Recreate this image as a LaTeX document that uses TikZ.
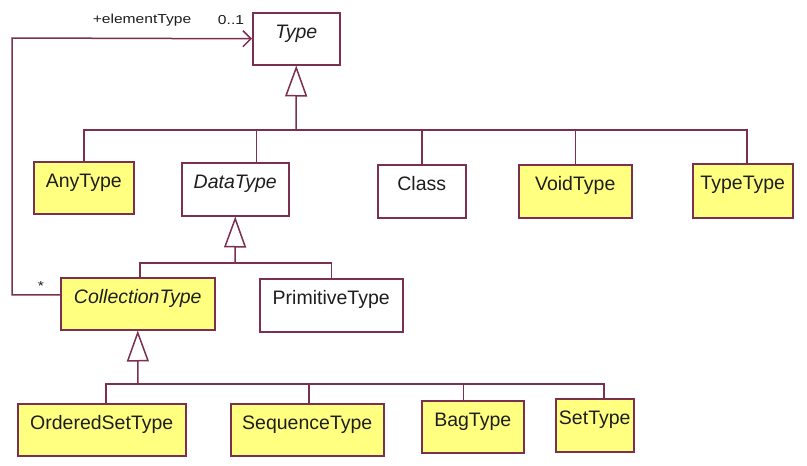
\documentclass[tikz,border=0pt]{standalone}
\usepackage{fontspec}
\setmainfont{Liberation Sans}
\newfontfamily\lblfont[FakeStretch=1.2]{Liberation Sans}
\usetikzlibrary{arrows.meta}
\definecolor{umlline}{RGB}{122,48,78}
\definecolor{umlfill}{RGB}{255,255,128}
\definecolor{umltext}{RGB}{30,30,30}
\tikzset{
 umlbox/.style={draw=umlline, line width=1.5pt, inner sep=0pt, anchor=north west, text=umltext, font=\fontsize{19.5}{22}\selectfont, text height=25.5pt},
 yellowbox/.style={umlbox, fill=umlfill},
 whitebox/.style={umlbox, fill=white},
 gen/.style={draw=umlline, line width=1.5pt, -{Triangle[open,length=31pt,width=22pt]}},
 branch/.style={draw=umlline, line width=1.5pt},
 assoc/.style={draw=umlline, line width=1.5pt, -{Straight Barb[length=8pt,width=16pt]}},
 lbl/.style={text=umltext, font=\lblfont\fontsize{13}{15}\selectfont, inner sep=0pt}
}
\newcommand{\umlnode}[7]{%
 \pgfmathsetmacro\bw{#4-#3}\pgfmathsetmacro\bd{#6-#5-25.5}%
 \node[#1, minimum width=\bw pt, text depth=\bd pt] (#2) at (#3,#5) {#7};}
\begin{document}
\begin{tikzpicture}[x=1pt,y=-1pt]
\useasboundingbox[fill=white] (0,0) rectangle (807,466);
% classes
\umlnode{whitebox}{type}{252}{339}{12}{64}{\itshape Type}
\umlnode{yellowbox}{anytype}{33}{133}{161}{213}{AnyType}
\umlnode{whitebox}{datatype}{181}{288}{162}{215}{\itshape DataType}
\umlnode{whitebox}{class}{377}{465}{164}{217}{Class}
\umlnode{yellowbox}{voidtype}{518}{631}{164}{217}{VoidType}
\umlnode{yellowbox}{typetype}{692}{792}{163}{217}{TypeType}
\umlnode{yellowbox}{coll}{60}{214}{277}{329}{\itshape CollectionType}
\umlnode{whitebox}{prim}{259}{402}{278}{331}{PrimitiveType}
\umlnode{yellowbox}{ordset}{17}{185}{403}{455}{OrderedSetType}
\umlnode{yellowbox}{seq}{230}{383}{403}{455}{SequenceType}
\umlnode{yellowbox}{bag}{421}{523}{400}{452}{BagType}
\umlnode{yellowbox}{set}{555}{633}{398}{451}{SetType}
% bus points
\coordinate (typebus) at (296,130);
\coordinate (databus) at (235,263);
\coordinate (collbus) at (138,384);
% generalizations to Type
\draw[branch] (anytype.north) |- (typebus);
\draw[branch] ([xshift=21pt]datatype.north) |- (typebus);
\draw[branch] (class.north) |- (typebus);
\draw[branch] (voidtype.north) |- (typebus);
\draw[branch] ([xshift=4pt]typetype.north) |- (typebus);
\draw[gen] (typebus) -- (type.south);
% generalizations to DataType
\draw[branch] ([xshift=2pt]coll.north) |- (databus);
\draw[branch] (prim.north) |- (databus);
\draw[gen] (databus) -- (datatype.south);
% generalizations to CollectionType
\draw[branch] ([xshift=4pt]ordset.north) |- (collbus);
\draw[branch] ([xshift=1.5pt]seq.north) |- (collbus);
\draw[branch] ([xshift=-9.5pt]bag.north) |- (collbus);
\draw[branch] ([xshift=9pt]set.north) |- (collbus);
\draw[gen] (collbus) -- (coll.south);
% association
\coordinate (leftx) at (12,38);
\draw[assoc] ([yshift=9pt]coll.west) -| (leftx) -- (type.west);
\node[lbl] (rolename) at (142,20) {+elementType};
\node[lbl] (mult1) at (231,20) {0..1};
\node[lbl] (multstar) at (41,286) {*};
\end{tikzpicture}
\end{document}
